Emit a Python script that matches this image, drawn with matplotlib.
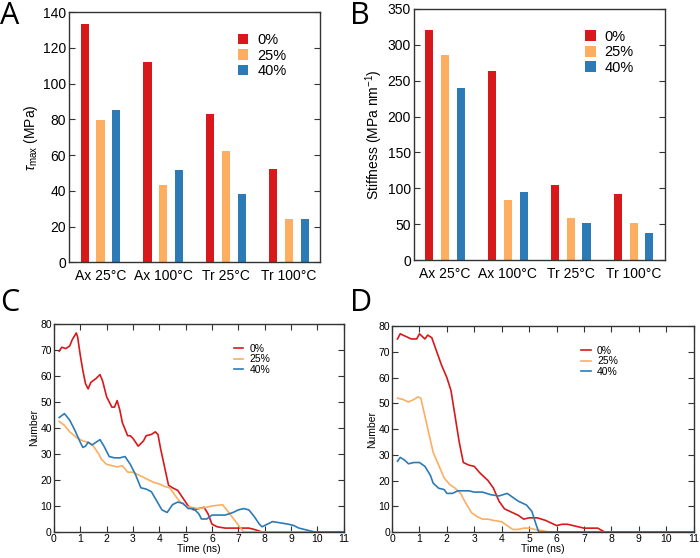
import matplotlib
matplotlib.use('Agg')
import matplotlib.pyplot as plt
import numpy as np

plt.rcParams['font.family'] = ['Liberation Sans', 'DejaVu Sans']
plt.rcParams['mathtext.fontset'] = 'custom'
plt.rcParams['mathtext.rm'] = 'Liberation Sans'
plt.rcParams['mathtext.it'] = 'Liberation Sans:italic'

# bar data (panels A, B)
conditions = ['Ax 25°C', 'Ax 100°C', 'Tr 25°C', 'Tr 100°C']
series = ['0%', '25%', '40%']
tau_0 = [133.5, 112, 83, 52]
tau_25 = [79.5, 43, 62.5, 24]
tau_40 = [85.5, 51.5, 38, 24.5]
stiff_0 = [320, 264, 104, 92]
stiff_25 = [286, 83, 58, 52]
stiff_40 = [240, 95, 52, 37]

# time series (panel C)
c_t0 = [0.2, 0.3, 0.45, 0.6, 0.7, 0.85, 0.9, 1.0, 1.1, 1.2, 1.3, 1.4, 1.6, 1.75, 1.85, 2.0, 2.2, 2.3, 2.4, 2.5,
        2.6, 2.8, 2.9, 3.0, 3.2, 3.4, 3.5, 3.7, 3.85, 3.95, 4.05, 4.2, 4.35, 4.5, 4.7, 4.9, 5.1, 5.3, 5.5, 5.7,
        5.85, 6.0, 6.2, 6.5, 7.0, 7.4, 7.6, 7.9, 11]
c_n0 = [69.5, 71, 70.5, 71.5, 74, 76.5, 75, 68, 62, 57, 55, 57.5, 59, 60.5, 58, 52, 48, 48, 50.5, 47,
        42, 37, 37, 36, 33, 35, 37, 37.5, 38.5, 37.5, 32, 25, 18, 17, 16, 13, 10, 8.5, 9, 9.5,
        7, 3, 2, 1.5, 1.5, 1.5, 1, 0, 0]
c_t25 = [0.2, 0.4, 0.6, 0.9, 1.1, 1.3, 1.5, 1.7, 1.8, 2.0, 2.2, 2.4, 2.6, 2.8, 3.0, 3.2, 3.4, 3.6, 3.8, 4.0,
         4.2, 4.4, 4.6, 4.8, 5.0, 5.2, 5.5, 5.8, 6.0, 6.4, 6.6, 6.9, 7.2, 11]
c_n25 = [42.5, 41, 38.5, 36, 35, 34.5, 33, 30, 28, 26, 25.5, 25, 25.5, 23, 23, 22, 21, 20, 19, 18.5,
         17.5, 17, 14, 11.5, 10, 9.5, 9, 9.5, 10, 10.5, 8, 4, 0, 0]
c_t40 = [0.2, 0.4, 0.6, 0.8, 1.0, 1.1, 1.2, 1.3, 1.45, 1.6, 1.75, 1.9, 2.1, 2.3, 2.5, 2.7, 2.9, 3.1, 3.3, 3.5,
         3.7, 3.9, 4.1, 4.3, 4.5, 4.7, 4.9, 5.1, 5.3, 5.5, 5.6, 5.8, 6.0, 6.3, 6.5, 6.8, 7.0, 7.2, 7.4, 7.6,
         7.8, 7.9, 8.1, 8.3, 8.6, 8.9, 9.1, 9.3, 9.5, 9.7, 9.9, 11]
c_n40 = [44, 45.5, 43, 39, 34.5, 32.5, 33, 34.5, 33.5, 34.5, 35.5, 33, 29, 28.5, 28.5, 29, 26, 22, 17, 16.5,
         15.5, 12, 8.5, 7.5, 10.5, 11.5, 11, 9, 9, 7, 5, 5, 6.5, 6.5, 6.5, 7.5, 8.5, 9, 8.5, 6,
         3, 2, 3, 4, 3.5, 3, 2.5, 1.5, 1, 0.5, 0, 0]

# time series (panel D)
d_t0 = [0.2, 0.3, 0.5, 0.7, 0.9, 1.0, 1.1, 1.2, 1.3, 1.45, 1.6, 1.8, 2.0, 2.15, 2.3, 2.45, 2.6, 2.8, 3.0, 3.2,
        3.5, 3.7, 3.9, 4.1, 4.3, 4.6, 4.8, 5.0, 5.3, 5.6, 5.8, 6.0, 6.2, 6.4, 6.6, 6.8, 7.0, 7.5, 7.75, 11]
d_n0 = [75, 77, 76, 75, 75, 77, 76, 75, 76.5, 75.5, 71, 65, 60, 55, 45, 35, 27, 26, 25.5, 23,
        20, 17, 12, 9, 8, 6.5, 5, 5.5, 5.5, 4.5, 3.5, 2.5, 3, 3, 2.5, 2, 1.5, 1.5, 0, 0]
d_t25 = [0.2, 0.4, 0.6, 0.8, 0.95, 1.05, 1.2, 1.35, 1.5, 1.7, 1.9, 2.1, 2.3, 2.5, 2.7, 2.9, 3.1, 3.3, 3.5, 3.7,
         4.0, 4.2, 4.4, 4.6, 4.8, 5.0, 5.2, 5.5, 5.7, 11]
d_n25 = [52, 51.5, 50.5, 51.5, 52.5, 52, 45, 38, 31, 26, 21, 18.5, 17, 15, 11, 7.5, 6, 5, 5, 4.5,
         4, 2.5, 1, 1, 1.5, 1.5, 1, 0.5, 0, 0]
d_t40 = [0.2, 0.3, 0.45, 0.6, 0.8, 1.0, 1.2, 1.4, 1.5, 1.7, 1.9, 2.0, 2.2, 2.4, 2.6, 2.8, 3.0, 3.3, 3.6, 3.9,
         4.2, 4.4, 4.6, 4.9, 5.1, 5.25, 5.35, 11]
d_n40 = [27.5, 29, 28, 26.5, 27, 27, 25.5, 22, 19, 17, 16.5, 15, 15, 16, 16, 16, 15.5, 15.5, 14.5, 14,
         15, 13.5, 12, 10.5, 8, 3, 0, 0]

colors = ['#d7191c', '#fdae61', '#2c7bb6']
spine_col = '#333333'


def style_axes(ax):
    for s in ax.spines.values():
        s.set_color(spine_col)
        s.set_linewidth(1.0)


def bar_panel(ax, vals, ymax, ystep, ylabel, leg_anchor):
    x = np.arange(len(conditions))
    for i, v in enumerate(vals):
        ax.bar(x + (i - 1) * 0.25, v, width=0.13, color=colors[i], label=series[i])
    ax.set_xlim(-0.5, 3.5)
    ax.set_ylim(0, ymax)
    ax.set_yticks(np.arange(0, ymax + 1, ystep))
    ax.set_xticks(x)
    ax.set_xticklabels(conditions)
    ax.tick_params(axis='x', length=0, labelsize=10, pad=5)
    ax.tick_params(axis='y', direction='in', length=4, right=True, labelsize=10, pad=2, color=spine_col)
    ax.set_ylabel(ylabel, fontsize=10, labelpad=2)
    ax.legend(loc='upper left', bbox_to_anchor=leg_anchor, frameon=False, fontsize=10.5,
              handlelength=0.7, handleheight=0.75, handletextpad=0.6, labelspacing=0.1,
              borderaxespad=0)
    style_axes(ax)


def line_panel(ax, data):
    for i, (t, n) in enumerate(data):
        ax.plot(t, n, color=colors[i], lw=1.2, label=series[i])
    ax.set_xlim(0, 11)
    ax.set_ylim(0, 80)
    ax.set_xticks(np.arange(0, 12, 1))
    ax.set_yticks(np.arange(0, 81, 10))
    ax.tick_params(direction='in', length=4, top=True, right=True, labelsize=7.5, pad=1.5, color=spine_col)
    ax.set_xlabel('Time (ns)', fontsize=7.5, labelpad=0)
    ax.set_ylabel('Number', fontsize=7.5, labelpad=1)
    ax.legend(loc='upper right', bbox_to_anchor=(0.78, 0.95), frameon=False, fontsize=7.5,
              handlelength=0.9, handletextpad=0.6, labelspacing=0.05)
    style_axes(ax)


fig = plt.figure(figsize=(7, 5.58), dpi=100)

axA = fig.add_axes([0.0986, 0.530, 0.359, 0.448])
bar_panel(axA, [tau_0, tau_25, tau_40], 140, 20, r'$\tau_{\rm max}$ (MPa)', (0.65, 0.94))

axB = fig.add_axes([0.591, 0.534, 0.359, 0.450])
bar_panel(axB, [stiff_0, stiff_25, stiff_40], 350, 50, r'Stiffness (MPa nm$^{-1}$)', (0.66, 0.94))

axC = fig.add_axes([0.077, 0.0466, 0.414, 0.373])
line_panel(axC, [(c_t0, c_n0), (c_t25, c_n25), (c_t40, c_n40)])

axD = fig.add_axes([0.56, 0.0466, 0.431, 0.369])
line_panel(axD, [(d_t0, d_n0), (d_t25, d_n25), (d_t40, d_n40)])

for lbl, x, y in [('A', 0.0, 0.998), ('B', 0.5, 0.998), ('C', 0.0, 0.483), ('D', 0.5, 0.483)]:
    fig.text(x, y, lbl, fontsize=22, family=['Open Sans', 'DejaVu Sans'], va='top', ha='left')

fig.savefig('out.png', dpi=100)
plt.close(fig)
